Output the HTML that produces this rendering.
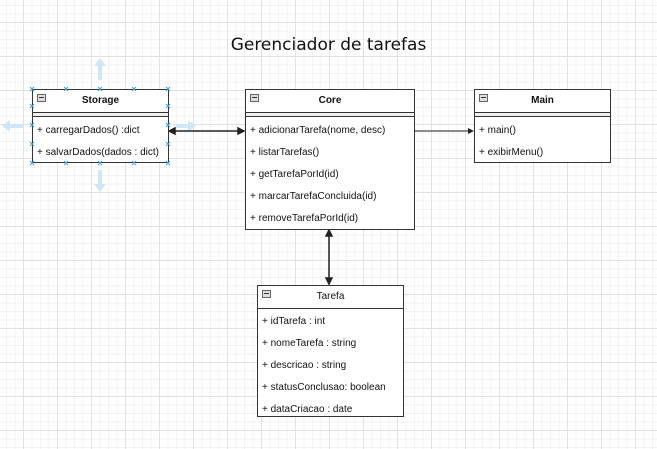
<!DOCTYPE html>
<html><head><style>
html,body{margin:0;padding:0}
body{width:657px;height:449px;position:relative;overflow:hidden;background:#fff;
background-image:
linear-gradient(to right,#e2e2e2 1px,transparent 1px),
linear-gradient(to bottom,#e2e2e2 1px,transparent 1px),
linear-gradient(to right,#f3f3f3 1px,transparent 1px),
linear-gradient(to bottom,#f3f3f3 1px,transparent 1px);
background-size:34px 34px,34px 34px,8.5px 8.5px,8.5px 8.5px;
background-position:23px 22px,23px 22px,23px 22px,23px 22px;
font-family:"Liberation Sans",sans-serif;font-size:10px;color:#111}
.box{position:absolute;border:1px solid #333;background:#fff;box-sizing:border-box}
.hd{height:22px;border-bottom:1px solid #333;text-align:center;line-height:22px;font-weight:bold;font-size:10px;position:relative}
.hd.n{font-weight:normal}
.hd i{position:absolute;left:4px;top:4px;width:7px;height:6px;border:1px solid #666;background:#ddd}
.hd i:after{content:"";position:absolute;left:1px;top:2px;width:5px;height:1px;background:#333}
.dl{height:3px;border-bottom:1px solid #333;background:#eee;margin-bottom:3px}
.sp{height:2px}
.r{height:22px;line-height:22px;padding-left:4px;white-space:nowrap}
.t{position:absolute;left:0;width:657px;top:35px;text-align:center;font-family:"DejaVu Sans",sans-serif;font-size:17px}
svg{position:absolute;left:0;top:0}
</style></head><body>
<div class="t">Gerenciador de tarefas</div>
<svg width="657" height="449">
<g fill="#cfe6f7">
<polygon points="100,58 94,66 98,66 98,80 102,80 102,66 106,66"/>
<polygon points="100,192 94,184 98,184 98,170 102,170 102,184 106,184"/>
<polygon points="2,126 10,120 10,124 24,124 24,128 10,128 10,132"/>
<polygon points="196,126 188,120 188,124 176,124 176,128 188,128 188,132"/>
</g>
<g stroke="#222" stroke-width="1.5" fill="#222">
<line x1="172" y1="131" x2="241" y2="131"/>
<polygon points="169,131 175,128 175,134"/>
<polygon points="244,131 238,128 238,134"/>
<line x1="329" y1="233" x2="329" y2="281"/>
<polygon points="329,230 326,236 332,236"/>
<polygon points="329,284 326,278 332,278"/>
</g>
<g stroke="#666" stroke-width="1.5" fill="#222">
<line x1="414" y1="131" x2="470" y2="131"/>
<polygon points="474,131 468,128 468,134" stroke="none"/>
</g>
</svg>
<div class="box" style="left:32px;top:89px;width:137px;height:74px">
<div class="hd"><i></i>Storage</div><div class="dl"></div>
<div class="r">+ carregarDados() :dict</div><div class="r">+ salvarDados(dados : dict)</div></div>
<div class="box" style="left:245px;top:89px;width:170px;height:141px">
<div class="hd"><i></i>Core</div><div class="dl"></div>
<div class="r">+ adicionarTarefa(nome, desc)</div><div class="r">+ listarTarefas()</div><div class="r">+ getTarefaPorId(id)</div><div class="r">+ marcarTarefaConcluida(id)</div><div class="r">+ removeTarefaPorId(id)</div></div>
<div class="box" style="left:474px;top:89px;width:137px;height:74px">
<div class="hd"><i></i>Main</div><div class="dl"></div>
<div class="r">+ main()</div><div class="r">+ exibirMenu()</div></div>
<div class="box" style="left:257px;top:285px;width:147px;height:132px">
<div class="hd n"><i></i>Tarefa</div><div class="sp"></div>
<div class="r">+ idTarefa : int</div><div class="r">+ nomeTarefa : string</div><div class="r">+ descricao : string</div><div class="r">+ statusConclusao: boolean</div><div class="r">+ dataCriacao : date</div></div>
<svg width="657" height="449">
<g stroke="#3aa0e0" stroke-width="1">
<path d="M30,87l4,4m0,-4l-4,4 M64,87l4,4m0,-4l-4,4 M98,87l4,4m0,-4l-4,4 M132,87l4,4m0,-4l-4,4 M166,87l4,4m0,-4l-4,4
M30,161l4,4m0,-4l-4,4 M64,161l4,4m0,-4l-4,4 M98,161l4,4m0,-4l-4,4 M132,161l4,4m0,-4l-4,4 M166,161l4,4m0,-4l-4,4
M30,104l4,4m0,-4l-4,4 M30,123l4,4m0,-4l-4,4 M30,142l4,4m0,-4l-4,4 M166,104l4,4m0,-4l-4,4 M166,123l4,4m0,-4l-4,4 M166,142l4,4m0,-4l-4,4"/>
</g></svg>
</body></html>
